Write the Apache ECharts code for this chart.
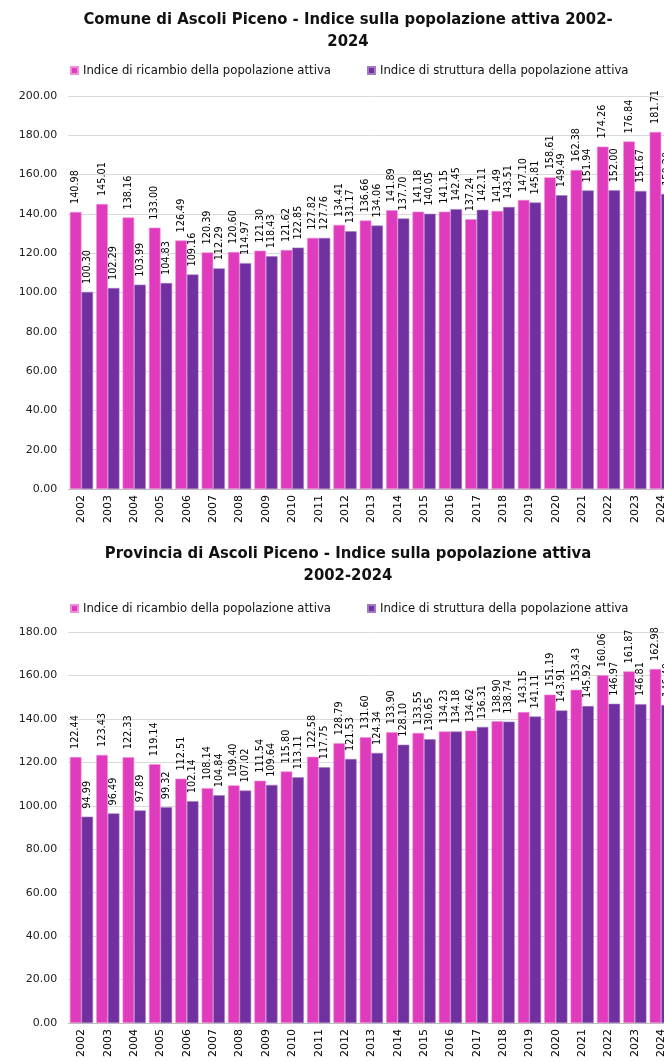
<!DOCTYPE html>
<html><head><meta charset="utf-8">
<script src="https://cdn.jsdelivr.net/npm/echarts@6/dist/echarts.min.js"></script>
<style>html,body{margin:0;padding:0;background:#fff;overflow:hidden;width:664px;height:1062px}#c{width:696px;height:1062px}</style>
</head><body><div id="c"></div>
<script>
const years = ['2002','2003','2004','2005','2006','2007','2008','2009','2010','2011','2012','2013','2014','2015','2016','2017','2018','2019','2020','2021','2022','2023','2024'];
const comuneRicambio = [140.98,145.01,138.16,133.00,126.49,120.39,120.60,121.30,121.62,127.82,134.41,136.66,141.89,141.18,141.15,137.24,141.49,147.10,158.61,162.38,174.26,176.84,181.71];
const comuneStruttura = [100.30,102.29,103.99,104.83,109.16,112.29,114.97,118.43,122.85,127.76,131.17,134.06,137.70,140.05,142.45,142.11,143.51,145.81,149.49,151.94,152.00,151.67,150.20];
const provRicambio = [122.44,123.43,122.33,119.14,112.51,108.14,109.40,111.54,115.80,122.58,128.79,131.60,133.90,133.55,134.23,134.62,138.90,143.15,151.19,153.43,160.06,161.87,162.98];
const provStruttura = [94.99,96.49,97.89,99.32,102.14,104.84,107.02,109.64,113.11,117.75,121.53,124.34,128.10,130.65,134.18,136.31,138.74,141.11,143.91,145.92,146.97,146.81,146.40];
const titles = ['Comune di Ascoli Piceno - Indice sulla popolazione attiva 2002-\n2024','Provincia di Ascoli Piceno - Indice sulla popolazione attiva\n2002-2024'];
const seriesNames = ['Indice di ricambio della popolazione attiva','Indice di struttura della popolazione attiva'];
const yMax = [200, 180];

const PINK = '#DF3BBC', PURPLE = '#7030A0';
const condensed = '"DejaVu Sans Condensed",sans-serif';
const chart = echarts.init(document.getElementById('c'));
function label() {
  return {show:true, position:'top', rotate:90, align:'left', verticalAlign:'middle', distance:8,
    fontFamily:'DejaVu Sans', fontSize:9.7, color:'#000', formatter:p=>p.value.toFixed(2)};
}
const grids = [{left:68.3,right:21.6,top:96,height:393},{left:68.3,right:21.6,top:632,height:391}];
const xAxis = [0,1].map(i=>({type:'category', gridIndex:i, data:years,
  axisLine:{lineStyle:{color:'#bfbfbf',width:1}}, axisTick:{show:false},
  axisLabel:{rotate:90, margin:6, fontFamily:'DejaVu Sans', fontSize:11, color:'#000'}}));
const yAxis = [0,1].map(i=>({type:'value', gridIndex:i, min:0, max:yMax[i], interval:20,
  axisLine:{show:false}, axisTick:{show:false},
  splitLine:{lineStyle:{color:'#d9d9d9',width:1}},
  axisLabel:{margin:11, fontFamily:'DejaVu Sans', fontSize:11, color:'#222', formatter:v=>v.toFixed(2)}}));
const data = [[comuneRicambio, comuneStruttura],[provRicambio, provStruttura]];
const series = [];
[0,1].forEach(i=>{
  [0,1].forEach(j=>{
    series.push({type:'bar', name:seriesNames[j], xAxisIndex:i, yAxisIndex:i, data:data[i][j],
      barGap:'0%', barCategoryGap:'12%',
      itemStyle:{color: j===0?PINK:PURPLE, borderColor: j===0?'#ee8fd9':'#a27bc2', borderWidth:0.6},
      label:label()});
  });
});
chart.setOption({
  animation:false,
  title:[{text:titles[0], left:'center', top:4},{text:titles[1], left:'center', top:538}].map(t=>Object.assign(t,{
    textStyle:{fontFamily:condensed, fontWeight:'bold', fontSize:16.5, color:'#111', lineHeight:22}})),
  legend:[{top:59},{top:597}].map(l=>Object.assign(l,{left:65, itemWidth:7, itemHeight:7, itemGap:36,
    icon:'rect', data:seriesNames, textStyle:{fontFamily:condensed, fontSize:13, color:'#111'}})),
  grid:grids, xAxis:xAxis, yAxis:yAxis, series:series
});
</script></body></html>
